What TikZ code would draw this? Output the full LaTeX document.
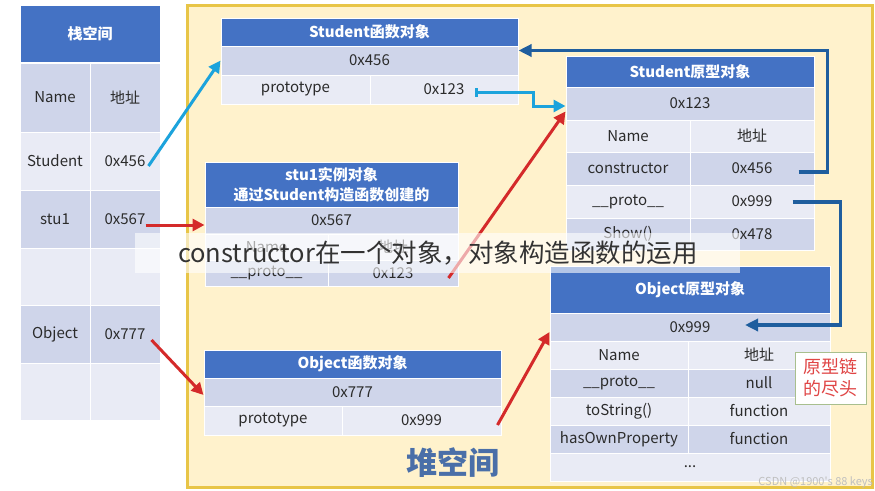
\documentclass[tikz,border=0pt]{standalone}
\usepackage{fontspec}
\setmainfont{Noto Sans CJK SC}
\usetikzlibrary{arrows.meta}

\definecolor{hdrblue}{HTML}{4472C4}
\definecolor{rowdark}{HTML}{CFD5EA}
\definecolor{rowlight}{HTML}{E9EBF5}
\definecolor{heapfill}{HTML}{FFF2CC}
\definecolor{heapline}{HTML}{E8C547}
\definecolor{cyanline}{HTML}{1CA3DC}
\definecolor{redline}{HTML}{D42A2A}
\definecolor{navyline}{HTML}{1F5E9E}
\definecolor{heaptext}{HTML}{4A6FA8}
\definecolor{notered}{HTML}{E04545}
\definecolor{noteline}{HTML}{A8BF8E}
\definecolor{textgray}{HTML}{2B2B2B}

\begin{document}
\begin{tikzpicture}[x=1pt, y=-1pt,
    head/.style={rectangle, draw=white, line width=1pt, inner sep=0pt, align=center, fill=hdrblue, text=white, font=\bfseries\fontsize{15}{20}\selectfont},
    rowd/.style={rectangle, draw=white, line width=1pt, inner sep=0pt, fill=rowdark, text=textgray, font=\fontsize{15}{17}\selectfont},
    rowl/.style={rectangle, draw=white, line width=1pt, inner sep=0pt, fill=rowlight, text=textgray, font=\fontsize{15}{17}\selectfont},
    heap/.style={rectangle, draw=heapline, line width=3pt, fill=heapfill},
    note/.style={rectangle, draw=noteline, line width=1pt, fill=white, align=center, text=notered, font=\fontsize{18}{22}\selectfont},
    capbox/.style={rectangle, draw=none, fill=white, fill opacity=0.6},
    cyanarrow/.style={draw=cyanline, line width=3pt, -{Triangle[length=12pt,width=12pt]}},
    redarrow/.style={draw=redline, line width=3pt, -{Triangle[length=12pt,width=12pt]}},
    navyarrow/.style={draw=navyline, line width=3.5pt, -{Triangle[length=13pt,width=12pt]}}
]
\useasboundingbox (0,0) rectangle (875,490);

% Heap space (yellow area)
\node[heap, minimum width=685, minimum height=482] (heap) at (529.5,246) {};
\node[font=\bfseries\fontsize{31}{31}\selectfont, text=heaptext] (heaplabel) at (453,463) {堆空间};

% Stack space table
\node[head, minimum width=140, minimum height=57] (stackhdr) at (90,33.5) {栈空间};
\node[rowd, minimum width=70, minimum height=69] (stkname) at (55,97.5) {Name};
\node[rowd, minimum width=70, minimum height=69] (stkaddr) at (125,97.5) {地址};
\node[rowl, minimum width=70, minimum height=58] (stkstu) at (55,161) {Student};
\node[rowl, minimum width=70, minimum height=58] (stkstuaddr) at (125,161) {0x456};
\node[rowd, minimum width=70, minimum height=58] (stku1) at (55,219) {stu1};
\node[rowd, minimum width=70, minimum height=58] (stku1addr) at (125,219) {0x567};
\node[rowl, minimum width=70, minimum height=57] (stkemptya) at (55,276.5) {};
\node[rowl, minimum width=70, minimum height=57] (stkemptyb) at (125,276.5) {};
\node[rowd, minimum width=70, minimum height=58] (stkobj) at (55,334) {Object};
\node[rowd, minimum width=70, minimum height=58] (stkobjaddr) at (125,334) {0x777};
\node[rowl, minimum width=70, minimum height=57] (stkemptyc) at (55,391.5) {};
\node[rowl, minimum width=70, minimum height=57] (stkemptyd) at (125,391.5) {};

% Student function object
\node[head, minimum width=297, minimum height=28] (sfhdr) at (369.5,32) {Student函数对象};
\node[rowd, minimum width=297, minimum height=29] (sfaddr) at (369.5,60.5) {0x456};
\node[rowl, minimum width=149, minimum height=29] (sfproto) at (295.5,89.5) {prototype};
\node[rowl, minimum width=148, minimum height=29] (sfprotoval) at (444,89.5) {0x123};

% Student prototype object
\node[head, minimum width=248, minimum height=31] (sphdr) at (690,71.5) {Student原型对象};
\node[rowd, minimum width=248, minimum height=33] (spaddr) at (690,103.5) {0x123};
\node[rowl, minimum width=124, minimum height=32] (spname) at (628,136) {Name};
\node[rowl, minimum width=124, minimum height=32] (spnameval) at (752,136) {地址};
\node[rowd, minimum width=124, minimum height=33] (spcons) at (628,168.5) {constructor};
\node[rowd, minimum width=124, minimum height=33] (spconsval) at (752,168.5) {0x456};
\node[rowl, minimum width=124, minimum height=33] (spproto) at (628,201.5) {\_\_proto\_\_};
\node[rowl, minimum width=124, minimum height=33] (spprotoval) at (752,201.5) {0x999};
\node[rowd, minimum width=124, minimum height=32] (spshow) at (628,234) {Show()};
\node[rowd, minimum width=124, minimum height=32] (spshowval) at (752,234) {0x478};

% stu1 instance object
\node[head, minimum width=253, minimum height=45] (sthdr) at (331.5,184.5) {stu1实例对象\\通过Student构造函数创建的};
\node[rowd, minimum width=253, minimum height=27] (staddr) at (331.5,220.5) {0x567};
\node[rowl, minimum width=123, minimum height=26] (stname) at (266.5,247) {Name};
\node[rowl, minimum width=130, minimum height=26] (stnameval) at (393,247) {地址};
\node[rowd, minimum width=123, minimum height=26] (stproto) at (266.5,273) {\_\_proto\_\_};
\node[rowd, minimum width=130, minimum height=26] (stprotoval) at (393,273) {0x123};

% Object function object
\node[head, minimum width=297, minimum height=28] (ofhdr) at (352.5,364) {Object函数对象};
\node[rowd, minimum width=297, minimum height=28] (ofaddr) at (352.5,392) {0x777};
\node[rowl, minimum width=138, minimum height=29] (ofproto) at (273,420.5) {prototype};
\node[rowl, minimum width=159, minimum height=29] (ofprotoval) at (421.5,420.5) {0x999};

% Object prototype object
\node[head, minimum width=280, minimum height=47] (ophdr) at (690,289.5) {Object原型对象};
\node[rowd, minimum width=280, minimum height=28] (opaddr) at (690,327) {0x999};
\node[rowl, minimum width=138, minimum height=28] (opname) at (619,355) {Name};
\node[rowl, minimum width=142, minimum height=28] (opnameval) at (759,355) {地址};
\node[rowd, minimum width=138, minimum height=28] (opproto) at (619,383) {\_\_proto\_\_};
\node[rowd, minimum width=142, minimum height=28] (opprotoval) at (759,383) {null};
\node[rowl, minimum width=138, minimum height=28] (opstr) at (619,411) {toString()};
\node[rowl, minimum width=142, minimum height=28] (opstrval) at (759,411) {function};
\node[rowd, minimum width=138, minimum height=28] (ophas) at (619,439) {hasOwnProperty};
\node[rowd, minimum width=142, minimum height=28] (ophasval) at (759,439) {function};
\node[rowl, minimum width=280, minimum height=28] (opmore) at (690,467) {...};

% End of the prototype chain
\node[note, minimum width=71, minimum height=52] (chainend) at (830.5,378) {原型链\\的尽头};

% Stack to heap references
\draw[cyanarrow] ([xshift=-12pt,yshift=-5pt]stkstuaddr.east) -- (sfaddr.west);
\draw[redarrow] ([xshift=-15pt,yshift=-6pt]stku1addr.east) -- ([yshift=-4.5pt]staddr.west);
\draw[redarrow] ([xshift=-9pt,yshift=-6pt]stkobjaddr.east) -- ([yshift=-3pt]ofaddr.west);

% prototype / __proto__ references
\draw[draw=cyanline, line width=3pt, {Bar[width=9pt]}-{Triangle[length=12pt,width=12pt]}] ([xshift=-44pt,yshift=-2.5pt]sfprotoval.east) -- ++(59pt,0) |- ([yshift=-2.5pt]spaddr.west);
\draw[redarrow] ([xshift=-10pt,yshift=-5pt]stprotoval.east) -- ([yshift=-8pt]spaddr.west);
\draw[redarrow] ([xshift=-4pt,yshift=-4.5pt]ofprotoval.east) -- ([yshift=-5pt]opaddr.west);

% constructor and prototype chain
\draw[navyarrow] ([xshift=-16pt,yshift=-3.5pt]spconsval.east) -- ++(29pt,0) |- ([yshift=10pt]sfaddr.east);
\draw[navyarrow] ([xshift=-22pt,yshift=-0.5pt]spprotoval.east) -- ++(48pt,0) |- ([xshift=55pt,yshift=2pt]opaddr.center);

% Caption overlay and watermark
\node[capbox, minimum width=605, minimum height=40] (capbg) at (437.5,253) {};
\node[anchor=west, inner sep=0pt, text=black!80, font=\fontsize{25.5}{26}\selectfont] (caption) at ([xshift=43pt]capbg.west) {constructor在一个对象，对象构造函数的运用};
\node[anchor=east, inner sep=0pt, text=gray!50, font=\fontsize{11}{12}\selectfont] (mark) at (873,482) {CSDN @1900\textquotesingle s 88 keys};

\end{tikzpicture}
\end{document}
